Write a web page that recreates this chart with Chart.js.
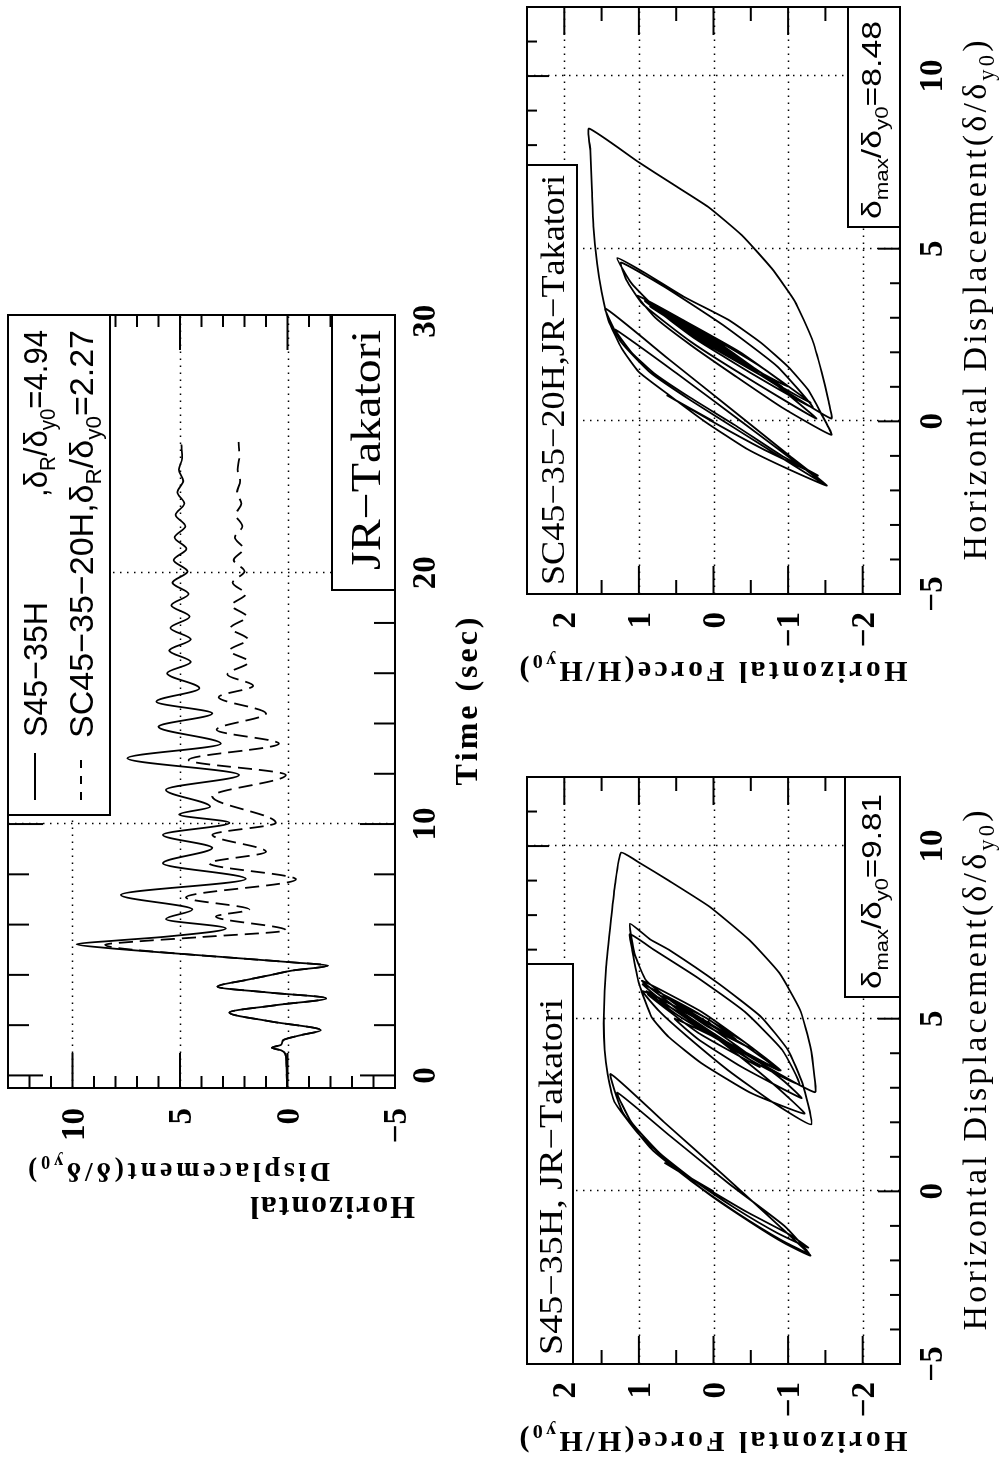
<!DOCTYPE html>
<html><head><meta charset="utf-8">
<script src="https://cdn.jsdelivr.net/npm/chart.js@4.4.1/dist/chart.umd.min.js"></script>
<style>
html,body{margin:0;padding:0;background:#fff;}
body{width:1000px;height:1465px;overflow:hidden;position:relative;}
#fig{position:absolute;left:0;top:0;width:1465px;height:1000px;transform-origin:0 0;transform:translateY(1465px) rotate(-90deg);background:#fff;}
canvas{position:absolute;}
</style></head><body>
<div id="fig">
<canvas id="cTH" width="1000" height="510" style="left:200px;top:0px"></canvas>
<canvas id="cS45" width="740" height="500" style="left:0px;top:500px"></canvas>
<canvas id="cSC" width="725" height="500" style="left:740px;top:500px"></canvas>
</div>
<script>
// ---------------- DATA ----------------
// Time history, S45-35H (solid)
const thTimeS45 = [-0.5,0.5,0.85,1.0,1.1,1.22,1.4,1.6,1.8,2.15,2.5,2.8,3.07,3.3,3.53,3.8,4.0,4.17,4.37,4.5,4.82,5.07,5.22,5.36,5.52,5.85,6.22,6.6,7.18,7.82,8.44,9.05,9.57,10.05,10.38,10.69,11.36,11.95,12.62,13.2,13.87,14.4,14.87,15.4,16.0,16.45,16.9,17.35,17.8,18.25,18.7,19.15,19.6,20.05,20.5,20.95,21.4,21.85,22.3,22.75,23.2,23.65,24.1,24.55,25.1];
const thDispS45 = [0.02,0.05,0.1,0.3,0.73,0.3,0.2,-0.6,-1.55,0.8,2.7,0.5,-1.8,0.9,3.26,1.9,0.75,-0.2,-1.88,-0.2,4.7,8.4,9.81,8.06,5.66,2.87,5.66,4.42,7.75,1.94,5.8,3.5,5.8,2.7,5.04,3.6,5.66,2.25,7.45,3.1,6.0,3.5,6.1,4.1,5.6,4.5,5.5,4.5,5.45,4.55,5.4,4.6,5.35,4.65,5.3,4.7,5.25,4.75,5.2,4.8,5.12,4.85,5.05,4.9,4.94];
// Time history, SC45-35-20H (dashed)
const thTimeSC = [-0.5,0.5,0.85,1.0,1.1,1.22,1.4,1.6,1.8,2.15,2.5,2.8,3.07,3.3,3.53,3.8,4.0,4.17,4.37,4.5,4.82,5.07,5.2,5.33,5.5,5.78,6.32,6.6,7.08,7.8,8.44,8.9,9.57,10.05,11.1,11.95,12.55,13.2,13.75,14.4,15.05,15.5,15.95,16.45,16.9,17.35,17.8,18.25,18.7,19.15,19.6,20.05,20.5,20.95,21.4,21.85,22.3,22.75,23.2,23.65,24.1,24.6,25.2];
const thDispSC = [0.02,0.05,0.1,0.3,0.73,0.3,0.2,-0.6,-1.55,0.8,2.7,0.5,-1.8,0.9,3.26,1.9,0.75,-0.2,-1.88,-0.2,4.7,7.9,8.48,7.0,4.1,0.08,3.33,1.78,4.73,-0.39,3.64,1.0,3.49,0.54,3.5,0.08,4.6,0.4,3.3,1.0,3.2,1.6,2.8,1.8,2.7,1.85,2.65,1.9,2.6,1.95,2.55,2.0,2.5,2.05,2.45,2.1,2.4,2.15,2.35,2.2,2.32,2.24,2.27];
// Hysteresis S45-35H: displacement / force
const hyDispS45 = [0,0.82,0.1,-0.6,-1.25,-1.63, -1.2,-0.5,0.3,1.1,2.0,2.86, 1.6,0.2,-1.0,-1.8, -1.4,-0.6,0.3,1.2,2.3,3.4, 2.0,0.5,-1.0,-1.86,
 -1.5,-0.9,-0.1,0.8,1.7,2.6,3.4,4.1,5.1,6.5,7.96,8.9,9.81, 9.5,9.0,8.24,7.28,6.33,5.26,4.19,3.4,2.87,
 3.6,4.5,5.2,5.66, 5.0,4.4, 5.3,6.1,6.9,7.75, 7.3,7.0,6.03,5.05,4.09,3.14,1.94, 2.6,3.5,4.5,5.2,5.8, 5.0,4.2,3.5, 4.3,5.1,5.8,
 4.9,4.0,3.2,2.7, 3.6,4.4,5.0, 4.3,3.6, 4.6,5.7, 4.9,4.0,3.0,2.25, 2.84,3.71,4.47,5.05,6.03,6.99,7.45, 7.0,6.2,5.2,4.1,3.1,
 3.8,4.7,5.4,6.0, 5.2,4.3,3.5, 4.3,5.2,6.1, 5.2,4.1, 4.8,5.6, 4.4,5.4,4.45,5.3,4.5,5.2,4.6,5.1,4.7,5.0,4.8,4.94];
const hyForceS45 = [0,0.65,0.1,-0.45,-1.02,-1.27, -0.85,-0.3,0.25,0.72,1.1,1.29, 0.58,-0.22,-0.95,-1.28, -0.9,-0.3,0.3,0.82,1.22,1.38, 0.66,-0.12,-0.88,-1.3,
 -0.95,-0.5,0.05,0.58,1.02,1.33,1.42,1.46,1.47,1.44,1.37,1.32,1.24, 0.98,0.6,0.05,-0.48,-0.88,-1.16,-1.3,-1.35,-1.36,
 -0.72,-0.04,0.44,0.7, 0.08,-0.3, 0.42,0.9,1.06,1.12, 0.85,0.6,-0.06,-0.64,-1.0,-1.19,-1.31, -0.78,-0.2,0.36,0.72,0.95, 0.19,-0.44,-0.88, -0.14,0.48,0.9,
 0.15,-0.45,-0.94,-1.18, -0.38,0.2,0.52, -0.16,-0.62, 0.21,0.88, 0.25,-0.3,-0.86,-1.22, -0.51,0.16,0.6,0.83,1.0,1.09,1.12, 0.8,0.22,-0.42,-0.92,-1.15,
 -0.5,0.15,0.62,0.95, 0.24,-0.43,-0.9, -0.2,0.43,0.96, 0.16,-0.55, 0.1,0.62, -0.3,0.48,-0.25,0.4,-0.2,0.32,-0.12,0.24,-0.05,0.15,0.02,0.08];
// Hysteresis SC45-35-20H: displacement / force
const hyDispSC = [0,0.75,0.0,-0.8,-1.3,-1.57, -1.0,-0.1,0.7,1.4,2.0,2.66, 1.4,0.0,-1.1,-1.84, -1.2,-0.3,0.6,1.4,2.3,3.27, 1.8,0.3,-1.0,-1.86,
 -1.4,-0.8,0.0,0.8,1.43,2.11,2.93,3.75,4.57,5.66,6.75,7.84,8.48, 7.5,6.89,6.21,5.39,4.43,3.48,2.39,1.43,0.61,0.08,
 0.9,1.9,2.7,3.33, 2.6,1.78, 2.5,3.3,4.0,4.73, 4.3,3.6,2.94,2.27,1.58,0.91,0.24,-0.39, 0.4,1.3,2.2,3.0,3.64, 2.9,2.0,1.0, 1.8,2.7,3.49,
 2.6,1.6,0.54, 1.5,2.5,3.4, 2.4,1.3,0.08, 1.2,2.3,3.4,4.1,4.6, 3.9,2.8,1.6,0.4, 1.4,2.4,3.3, 2.2,1.0, 2.1,3.2, 2.4,1.6,
 2.8,1.8,2.7,1.9,2.6,2.0,2.5,2.1,2.4,2.2,2.27];
const hyForceSC = [0,0.62,0.02,-0.66,-1.14,-1.4, -0.92,-0.28,0.32,0.8,1.1,1.32, 0.5,-0.37,-1.05,-1.5, -1.02,-0.36,0.3,0.84,1.24,1.45, 0.6,-0.27,-1.02,-1.52,
 -1.02,-0.45,0.12,0.62,1.0,1.23,1.41,1.5,1.56,1.61,1.63,1.65,1.67, 1.0,0.56,0.07,-0.38,-0.78,-1.09,-1.32,-1.45,-1.54,-1.58,
 -0.95,-0.22,0.4,0.85, 0.22,-0.32, 0.22,0.78,1.1,1.29, 0.92,0.39,-0.2,-0.64,-1.0,-1.27,-1.44,-1.58, -0.92,-0.3,0.3,0.78,1.02, 0.38,-0.36,-1.0, -0.3,0.42,0.92,
 0.15,-0.62,-1.3, -0.5,0.3,0.86, 0.02,-0.7,-1.38, -0.5,0.3,0.95,1.17,1.24, 0.66,-0.12,-0.85,-1.33, -0.5,0.25,0.8, -0.08,-0.92, -0.02,0.72, 0.05,-0.48,
 0.42,-0.32,0.33,-0.26,0.25,-0.18,0.17,-0.1,0.1,-0.04,0.0];
// Tick labels
const timeTickLabels = [0, 10, 20, 30];
const thDispTickLabels = [-5, 0, 5, 10];
const hyDispTickLabels = [-5, 0, 5, 10];
const hyForceTickLabels = [-2, -1, 0, 1, 2];
const seriesNames = ['S45\u221235H', 'SC45\u221235\u221220H'];
const residualDisp = ['4.94', '2.27'];
const maxDisp = ['9.81', '8.48'];

// ---------------- HELPERS ----------------
const SERIF = '"Liberation Serif","DejaVu Serif",serif';
const SANS = '"Liberation Sans","DejaVu Sans",sans-serif';
const MINUS = '\u2212';
const fmt = v => (v < 0 ? MINUS : '') + Math.abs(v);
const pts = (xs, ys) => xs.map((v, i) => ({x: v, y: ys[i]}));
function steps(a, b, s) { const r = []; for (let v = a; v <= b + 1e-9; v += s) r.push(Math.round(v * 1000) / 1000); return r; }
function seg(ctx, x1, y1, x2, y2) { ctx.beginPath(); ctx.moveTo(x1, y1); ctx.lineTo(x2, y2); ctx.stroke(); }
function box(ctx, x1, y1, x2, y2) {
  ctx.save(); ctx.fillStyle = '#fff'; ctx.fillRect(x1, y1, x2 - x1, y2 - y1);
  ctx.strokeStyle = '#000'; ctx.lineWidth = 2; ctx.strokeRect(x1, y1, x2 - x1, y2 - y1); ctx.restore();
}
function rich(ctx, segs, o) {
  const chars = [];
  segs.forEach(s => {
    const sub = s[1] === 's';
    const sz = sub ? o.size * 0.66 : o.size;
    const font = (o.weight || 'normal') + ' ' + sz + 'px ' + o.fam;
    ctx.font = font;
    for (const ch of s[0]) chars.push({ch, font, w: ctx.measureText(ch).width, dy: sub ? o.size * 0.24 : 0});
  });
  const nat = chars.reduce((a, c) => a + c.w, 0);
  let sp = 0, sx = 1;
  if (o.width) { if (o.fit === 'scale') sx = o.width / nat; else sp = (o.width - nat) / Math.max(1, chars.length - 1); }
  const total = o.width || nat;
  const start = o.align === 'center' ? -total / 2 : (o.align === 'right' ? -total : 0);
  ctx.save(); ctx.translate(o.x, o.y); if (o.rot) ctx.rotate(o.rot);
  ctx.translate(start, 0); ctx.scale(sx, 1);
  ctx.fillStyle = '#000'; ctx.textAlign = 'left'; ctx.textBaseline = 'alphabetic';
  let cx = 0;
  chars.forEach(c => { ctx.font = c.font; ctx.fillText(c.ch, cx, c.dy); cx += c.w + sp / sx; });
  ctx.restore();
}
function grid(chart, gx, gy) {
  const {ctx, chartArea: a, scales: {x, y}} = chart;
  ctx.save(); ctx.strokeStyle = '#000'; ctx.lineWidth = 1.5; ctx.setLineDash([1.5, 5.5]);
  gx.forEach(v => { const p = Math.round(x.getPixelForValue(v)) + 0.5; seg(ctx, p, a.top, p, a.bottom); });
  gy.forEach(v => { const p = Math.round(y.getPixelForValue(v)) + 0.5; seg(ctx, a.left, p, a.right, p); });
  ctx.restore();
}
function ticks(chart, tx, ty) {
  const {ctx, chartArea: a, scales: {x, y}} = chart;
  ctx.save(); ctx.strokeStyle = '#000'; ctx.lineWidth = 2;
  tx.vals.forEach(v => { const p = x.getPixelForValue(v), L = tx.maj(v) ? tx.lmaj : tx.lmin;
    seg(ctx, p, a.top, p, a.top + L); seg(ctx, p, a.bottom, p, a.bottom - L); });
  ty.vals.forEach(v => { const p = y.getPixelForValue(v), L = ty.maj(v) ? ty.lmaj : ty.lmin;
    seg(ctx, a.left, p, a.left + L, p); seg(ctx, a.right, p, a.right - L, p); });
  ctx.strokeRect(a.left, a.top, a.right - a.left, a.bottom - a.top);
  ctx.restore();
}
function tickText(ctx, txt, x, y, align, size) {
  ctx.save(); ctx.font = 'bold ' + size + 'px ' + SERIF; ctx.fillStyle = '#000';
  ctx.textAlign = align; ctx.textBaseline = 'alphabetic'; ctx.fillText(txt, x, y); ctx.restore();
}
function mkChart(id, datasets, xr, yr, pad, before, after) {
  return new Chart(document.getElementById(id), {
    type: 'scatter',
    data: {datasets},
    options: {
      responsive: false, animation: false, devicePixelRatio: 1, events: [],
      layout: {padding: pad},
      plugins: {legend: {display: false}, tooltip: {enabled: false}},
      scales: {
        x: {type: 'linear', min: xr[0], max: xr[1], display: false},
        y: {type: 'linear', min: yr[0], max: yr[1], display: false}
      }
    },
    plugins: [{id: 'deco_' + id, beforeDatasetsDraw: before, afterDatasetsDraw: after}]
  });
}
const lineDs = (data, extra) => Object.assign({data, showLine: true, borderColor: '#000', borderWidth: 1.8,
  pointRadius: 0, fill: false, borderJoinStyle: 'round'}, extra);

// ---------------- TIME HISTORY ----------------
mkChart('cTH', [
  lineDs(pts(thTimeSC, thDispSC), {cubicInterpolationMode: 'monotone', borderDash: [14, 7]}),
  lineDs(pts(thTimeS45, thDispS45), {cubicInterpolationMode: 'monotone'})
], [-0.5, 30.25], [-5, 13], {left: 177, right: 50, top: 8, bottom: 115},
function (chart) { grid(chart, [10, 20], [0, 5, 10]); },
function (chart) {
  const {ctx, chartArea: a, scales: {x, y}} = chart;
  ticks(chart, {vals: steps(0, 30, 2), maj: v => v % 10 === 0, lmaj: 35, lmin: 21},
               {vals: steps(-5, 13, 1), maj: v => v % 5 === 0, lmaj: 35, lmin: 12});
  timeTickLabels.forEach(v => tickText(ctx, fmt(v), x.getPixelForValue(v), 435, 'center', 33));
  thDispTickLabels.forEach(v => tickText(ctx, fmt(v), 157, y.getPixelForValue(v) + 11, 'right', 33));
  rich(ctx, [['Time (sec)', 'n']], {x: (a.left + a.right) / 2, y: 477, size: 32, fam: SERIF, weight: 'bold', align: 'center', width: 168});
  rich(ctx, [['Horizontal', 'n']], {x: 68, y: 415, size: 32, fam: SERIF, weight: 'bold', rot: -Math.PI / 2, width: 165});
  rich(ctx, [['Displacement(\u03b4/\u03b4', 'n'], ['y0', 's'], [')', 'n']], {x: 102, y: 330, size: 28, fam: SERIF, weight: 'bold', rot: -Math.PI / 2, width: 302});
  // legend
  box(ctx, 450, a.top, a.right, 110);
  ctx.save(); ctx.strokeStyle = '#000'; ctx.lineWidth = 2;
  seg(ctx, 465, 35, 512, 35);
  ctx.setLineDash([8, 8]); seg(ctx, 465, 81, 513, 81); ctx.restore();
  rich(ctx, [[seriesNames[0], 'n']], {x: 528, y: 47, size: 34, fam: SANS, width: 135, fit: 'scale'});
  rich(ctx, [[',\u03b4', 'n'], ['R', 's'], ['/\u03b4', 'n'], ['y0', 's'], ['=' + residualDisp[0], 'n']], {x: 935, y: 47, size: 34, fam: SANS, align: 'right', width: 167, fit: 'scale'});
  rich(ctx, [[seriesNames[1] + ',\u03b4', 'n'], ['R', 's'], ['/\u03b4', 'n'], ['y0', 's'], ['=' + residualDisp[1], 'n']], {x: 527, y: 93, size: 34, fam: SANS, width: 408, fit: 'scale'});
  // station box
  box(ctx, 675, 332, a.right, a.bottom);
  rich(ctx, [['JR\u2212Takatori', 'n']], {x: 695, y: 380, size: 42, fam: SERIF, width: 240, fit: 'scale'});
});

// ---------------- HYSTERESIS ----------------
function hysteresis(id, pad, labelBox, labelTxt, maxBox, maxIdx, data) {
  mkChart(id, [lineDs(data, {tension: 0.15})], [-5, 12], [-2.5, 2.5], pad,
  function (chart) { grid(chart, [0, 5, 10], [-2, -1, 0, 1, 2]); },
  function (chart) {
    const {ctx, chartArea: a, scales: {x, y}} = chart;
    ticks(chart, {vals: steps(-5, 12, 1), maj: v => v % 5 === 0, lmaj: 22, lmin: 10},
                 {vals: steps(-2.5, 2.5, 0.5), maj: v => Number.isInteger(v), lmaj: 28, lmin: 14});
    hyDispTickLabels.forEach(v => tickText(ctx, fmt(v), x.getPixelForValue(v), 442, 'center', 33));
    hyForceTickLabels.forEach(v => tickText(ctx, fmt(v), a.left - 18, y.getPixelForValue(v) + 11, 'right', 33));
    rich(ctx, [['Horizontal Displacement(\u03b4/\u03b4', 'n'], ['y0', 's'], [')', 'n']],
      {x: (a.left + a.right) / 2, y: 486, size: 34, fam: SERIF, align: 'center', width: 520});
    rich(ctx, [['Horizontal Force(H/H', 'n'], ['y0', 's'], [')', 'n']],
      {x: a.left - 68, y: y.getPixelForValue(0), size: 30, fam: SERIF, weight: 'bold', align: 'center', rot: -Math.PI / 2, width: 388});
    box(ctx, a.left, a.top, labelBox[0], labelBox[1]);
    rich(ctx, [[labelTxt, 'n']], {x: a.left + 9, y: labelBox[2], size: 33, fam: SERIF, width: labelBox[3], fit: 'scale'});
    box(ctx, maxBox[0], maxBox[1], a.right, a.bottom);
    rich(ctx, [['\u03b4', 'n'], ['max', 's'], ['/\u03b4', 'n'], ['y0', 's'], ['=' + maxDisp[maxIdx], 'n']],
      {x: maxBox[0] + 8, y: a.bottom - 19, size: 28, fam: SANS, width: maxBox[2], fit: 'scale'});
  });
}
hysteresis('cS45', {left: 101, right: 52, top: 27, bottom: 100},
  [501, 73, 62, 356], seriesNames[0] + ', JR\u2212Takatori', [468, 345, 195], 0, pts(hyDispS45, hyForceS45));
hysteresis('cSC', {left: 131, right: 7, top: 27, bottom: 100},
  [560, 77, 64, 410], seriesNames[1] + ',JR\u2212Takatori', [498, 348, 198], 1, pts(hyDispSC, hyForceSC));
</script>
</body></html>
